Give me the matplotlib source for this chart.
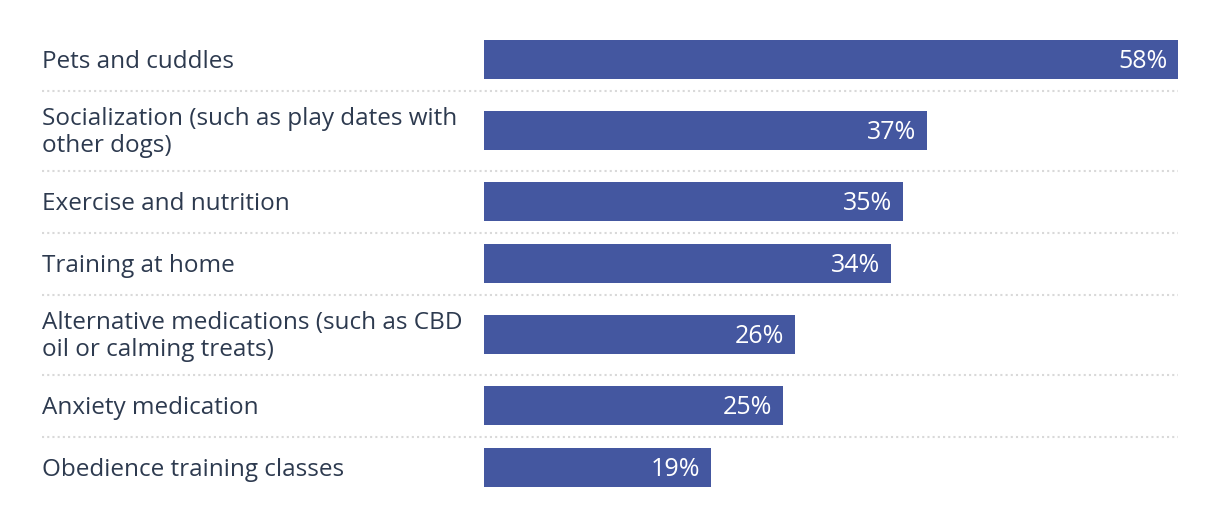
import matplotlib
matplotlib.use('Agg')
import matplotlib.pyplot as plt
from matplotlib.transforms import blended_transform_factory

categories = [
    'Pets and cuddles',
    'Socialization (such as play dates with\nother dogs)',
    'Exercise and nutrition',
    'Training at home',
    'Alternative medications (such as CBD\noil or calming treats)',
    'Anxiety medication',
    'Obedience training classes',
]
values = [58, 37, 35, 34, 26, 25, 19]

bar_color = '#4457a0'
text_color = '#2d3a4f'
plt.rcParams['font.family'] = ['Open Sans', 'DejaVu Sans']

W, H = 1220, 518
fig = plt.figure(figsize=(W / 100, H / 100), dpi=100)
ax = fig.add_axes([484 / W, 0, 694 / W, 1])
ax.set_xlim(0, max(values))
ax.set_ylim(H, 0)
ax.axis('off')

# row layout in pixels: single-line rows 62px, two-line rows 80px
y = 28.5
centers, seps = [], []
for i, cat in enumerate(categories):
    h = 62 if '\n' not in cat else 80
    centers.append(y + h / 2)
    y += h
    if i < len(categories) - 1:
        seps.append(y)

ax.barh(centers, values, height=39, color=bar_color)

tr = blended_transform_factory(fig.transFigure, ax.transData)
for s in seps:
    ax.plot([42 / W, 1178 / W], [s, s], transform=tr, color='#d9d9d9',
            lw=1.5, ls=(0, (1, 1.5)), clip_on=False)

for c, cat, v in zip(centers, categories, values):
    ax.text(42 / W, c + 2, cat, transform=tr, ha='left', va='center',
            fontsize=17.5, color=text_color, linespacing=1.2)
    ax.text(v - 0.9, c + 2, f'{v}%', ha='right', va='center',
            fontsize=18, color='white')

fig.savefig('out.png', dpi=100)
